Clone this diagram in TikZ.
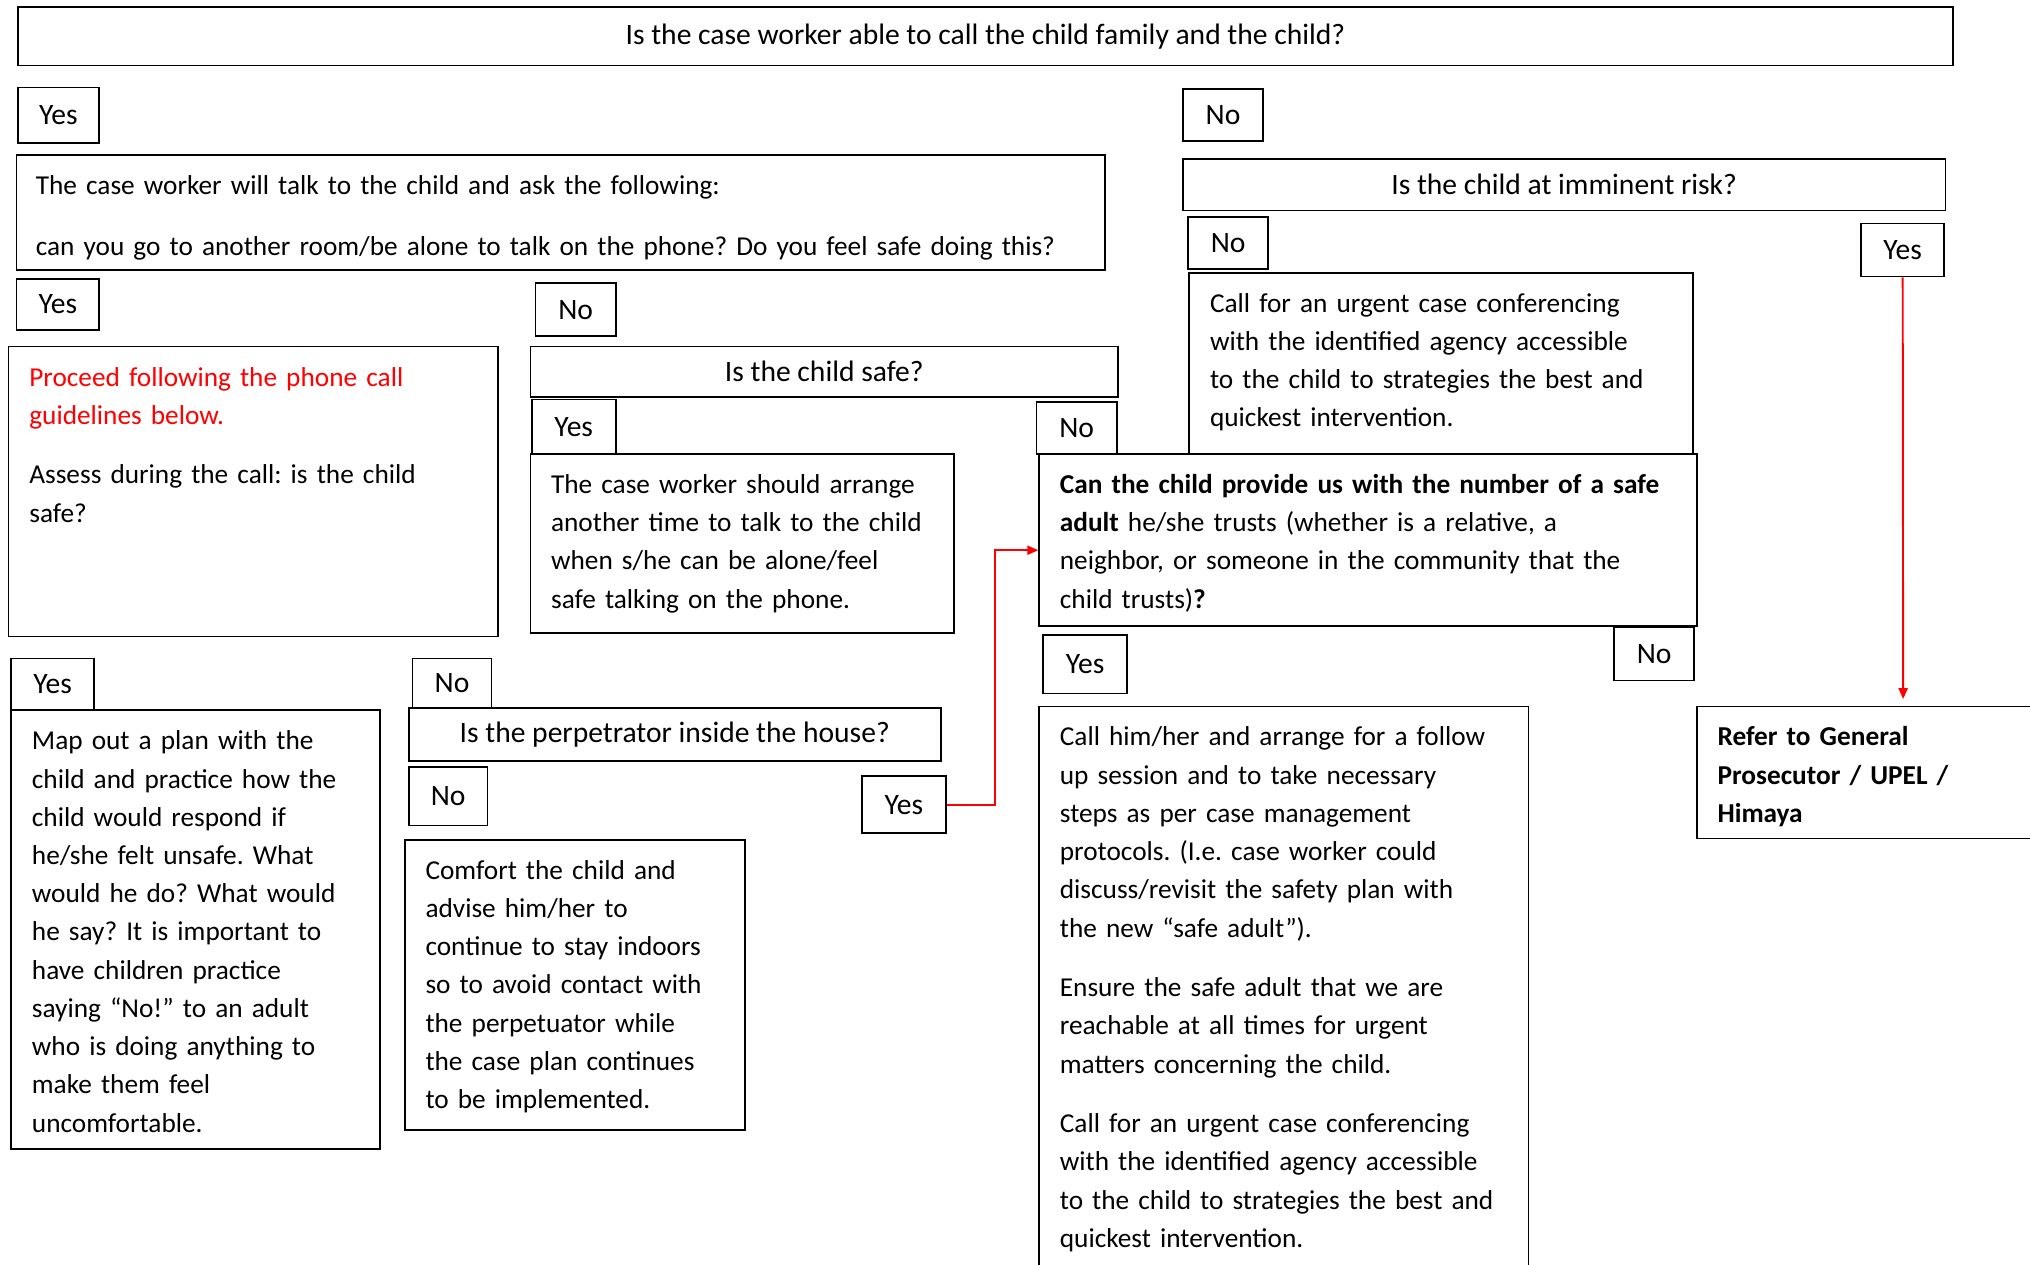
\documentclass[tikz,border=0pt]{standalone}
\usepackage{fontspec}
\setmainfont{Carlito}
\usetikzlibrary{arrows.meta}
\hyphenpenalty=10000
\frenchspacing

\tikzset{
  ans/.style={rectangle, draw, line width=0.75pt, anchor=north west, inner sep=0pt, font=\fontsize{13}{16.8}\selectfont},
  quest/.style={ans},
  txtbox/.style={rectangle, draw, line width=0.75pt, anchor=north west, inner xsep=3.2mm, inner ysep=0pt,
    align=left, text height=6.1mm, font=\fontsize{12}{16.8}\selectfont},
  redarrow/.style={red, line width=0.3mm, -{Triangle[length=1.7mm,width=1.4mm]}}
}

\begin{document}
\begin{tikzpicture}[x=0.2mm, y=-0.2mm]
\clip (0,0) rectangle (1568,977);

% top question
\draw (13,5) node(call) [quest, minimum width=299mm, minimum height=9mm] {Is the case worker able to call the child family and the child?};
\draw (13,67) node(callyes) [ans, minimum width=12.6mm, minimum height=8.6mm] {Yes};
\draw (913,68) node(callno) [ans, minimum width=12.4mm, minimum height=8mm] {No};

% left branch
\draw (12,119) node(talk) [txtbox, inner xsep=3mm, text width=162.2mm, text depth=11.7mm] {The case worker will talk to the child and ask the following:\\[3.5mm]
can you go to another room/be alone to talk on the phone? Do you feel safe doing this?};
\draw (12,215) node(talkyes) [ans, minimum width=12.8mm, minimum height=7.8mm] {Yes};
\draw (413,218) node(talkno) [ans, minimum width=12.4mm, minimum height=8.2mm] {No};

\draw (6,267) node(proceed) [txtbox, text width=69.2mm, text depth=38.7mm] {\textcolor{red}{Proceed following the phone call}\\
\textcolor{red}{guidelines below.}\\[3.3mm]
Assess during the call: is the child\\
safe?};

\draw (409,267) node(safe) [quest, minimum width=90.8mm, minimum height=7.8mm] {Is the child safe?};
\draw (410,308) node(safeyes) [ans, minimum width=13mm, minimum height=8.4mm] {Yes};
\draw (800,310) node(safeno) [ans, minimum width=12.4mm, minimum height=8mm] {No};
\draw (409,350) node(arrange) [txtbox, text width=59mm, text depth=21.5mm] {The case worker should arrange\\
another time to talk to the child\\
when s/he can be alone/feel\\
safe talking on the phone.};

% plan / perpetrator
\draw (8,508) node(planyes) [ans, minimum width=12.8mm, minimum height=8mm] {Yes};
\draw (318,508) node(planno) [ans, minimum width=12.2mm, minimum height=7.6mm] {No};
\draw (8,548) node(plan) [txtbox, text width=50.6mm, text depth=61.7mm] {Map out a plan with the\\
child and practice how the\\
child would respond if\\
he/she felt unsafe. What\\
would he do? What would\\
he say? It is important to\\
have children practice\\
saying “No!” to an adult\\
who is doing anything to\\
make them feel\\
uncomfortable.};
\draw (315,546) node(perp) [quest, minimum width=82.2mm, minimum height=8.2mm] {Is the perpetrator inside the house?};
\draw (315,592) node(perpno) [ans, minimum width=12.2mm, minimum height=9mm] {No};
\draw (665,599) node(perpyes) [ans, minimum width=13mm, minimum height=8.8mm] {Yes};
\draw (312,648) node(comfort) [txtbox, text width=46.2mm, text depth=38.7mm] {Comfort the child and\\
advise him/her to\\
continue to stay indoors\\
so to avoid contact with\\
the perpetuator while\\
the case plan continues\\
to be implemented.};

% right branch
\draw (913,122) node(risk) [quest, minimum width=117.8mm, minimum height=8mm] {Is the child at imminent risk?};
\draw (917,167) node(riskno) [ans, minimum width=12.4mm, minimum height=8mm] {No};
\draw (1437,172) node(riskyes) [ans, minimum width=12.8mm, minimum height=8.2mm] {Yes};
\draw (918,210) node(urgent) [txtbox, text width=71.4mm, text depth=21.9mm] {Call for an urgent case conferencing\\
with the identified agency accessible\\
to the child to strategies the best and\\
quickest intervention.};

\draw (802,350) node(adult) [txtbox, text width=95.2mm, text depth=20.5mm] {\textbf{Can the child provide us with the number of a safe}\\
\textbf{adult} he/she trusts (whether is a relative, a\\
neighbor, or someone in the community that the\\
child trusts)\textbf{?}};
\draw (805,490) node(adultyes) [ans, minimum width=13mm, minimum height=9mm] {Yes};
\draw (1246,484) node(adultno) [ans, minimum width=12.4mm, minimum height=8.2mm] {No};
\draw (802,545) node(followup) [txtbox, text width=69.2mm, text depth=82mm] {Call him/her and arrange for a follow\\
up session and to take necessary\\
steps as per case management\\
protocols. (I.e. case worker could\\
discuss/revisit the safety plan with\\
the new “safe adult”).\\[3.3mm]
Ensure the safe adult that we are\\
reachable at all times for urgent\\
matters concerning the child.\\[3.3mm]
Call for an urgent case conferencing\\
with the identified agency accessible\\
to the child to strategies the best and\\
quickest intervention.};

\draw (1310,545) node(refer) [txtbox, text width=48mm, text depth=14.3mm] {\textbf{Refer to General}\\
\textbf{Prosecutor / UPEL /}\\
\textbf{Himaya}};

% red connectors
\coordinate (adultin) at (802,425);
\coordinate (referin) at (1470,540);
\draw[redarrow] (perpyes.east) -- ++(37,0) |- (adultin);
\draw[redarrow] (riskyes.south) -- (referin);
\end{tikzpicture}
\end{document}
